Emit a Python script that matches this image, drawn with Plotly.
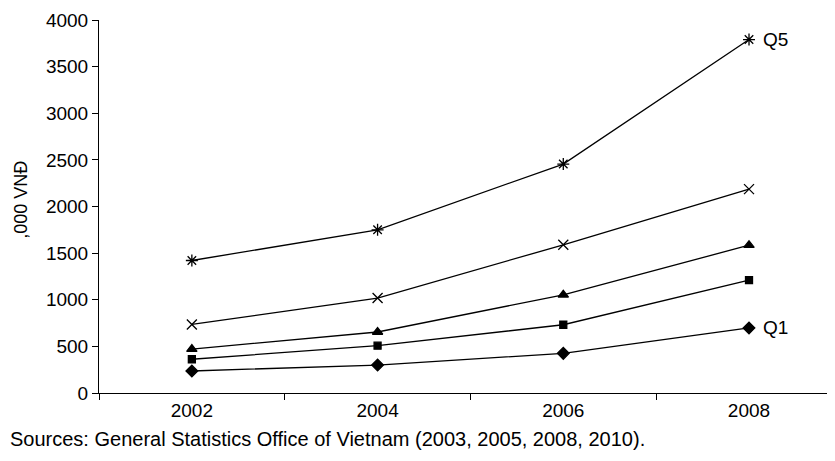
import plotly.graph_objects as go

years = ["2002", "2004", "2006", "2008"]
q1 = [236, 300, 425, 698]
q2 = [362, 507, 732, 1210]
q3 = [471, 654, 1053, 1585]
q4 = [735, 1018, 1589, 2186]
q5 = [1421, 1750, 2455, 3790]
y_ticks = [0, 500, 1000, 1500, 2000, 2500, 3000, 3500, 4000]
source_text = "Sources: General Statistics Office of Vietnam (2003, 2005, 2008, 2010)."
y_title = ",000 VNĐ"

FONT = "Liberation Sans, Arial, sans-serif"
# page body has an 8px margin, so the figure is sized/positioned to compensate
W, H = 827, 453
ML, MR, MT, MB = 91, 0, 12, 67.7

series = [
    ("Q1", q1, "diamond", 9),
    ("Q2", q2, "square", 7),
    ("Q3", q3, "triangle-up", 9),
    ("Q4", q4, "x-thin-open", 10),
    ("Q5", q5, "asterisk-open", 10),
]

fig = go.Figure()
for name, vals, sym, sz in series:
    fig.add_trace(go.Scatter(
        x=list(range(len(years))), y=vals, mode="lines+markers", name=name,
        line=dict(color="black", width=1.3),
        marker=dict(symbol=sym, size=sz, color="black",
                    line=dict(color="black", width=1.3)),
        showlegend=False, cliponaxis=False,
    ))

last = len(years) - 1
for name, vals in [("Q5", q5), ("Q1", q1)]:
    fig.add_annotation(xref="x", yref="y", x=last, y=vals[-1], text=name,
                       showarrow=False, xanchor="left", yanchor="middle", xshift=12,
                       font=dict(family=FONT, size=19, color="black"))

pw = W - ML - MR
ph = H - MT - MB
fig.add_annotation(xref="paper", yref="paper", x=-ML / pw, y=-(431 - (H - MB)) / ph,
                   text=source_text, showarrow=False, xanchor="left", yanchor="middle",
                   font=dict(family=FONT, size=20, color="black"))
fig.add_annotation(xref="paper", yref="paper", x=-(ML - 13) / pw, y=(H - MB - 192) / ph,
                   text=y_title, showarrow=False, textangle=-90,
                   xanchor="center", yanchor="middle",
                   font=dict(family=FONT, size=18, color="black"))

fig.update_xaxes(range=[-0.5, 3.463], tickvals=list(range(len(years))), ticktext=years,
                 ticks="", showline=True, linecolor="black", linewidth=1,
                 minor=dict(tickvals=[-0.5, 0.5, 1.5, 2.5], ticks="outside", ticklen=6,
                            tickcolor="black", tickwidth=1, showgrid=False),
                 showgrid=False, zeroline=False, automargin=False,
                 tickfont=dict(family=FONT, size=19, color="black"))
fig.update_yaxes(range=[0, 4000], tickvals=y_ticks, ticks="outside", ticklen=6,
                 tickcolor="black", tickwidth=1, showline=True, linecolor="black",
                 linewidth=1, showgrid=False, zeroline=False, automargin=False,
                 tickfont=dict(family=FONT, size=19, color="black"))

fig.update_layout(width=W, height=H, margin=dict(l=ML, r=MR, t=MT, b=MB, autoexpand=False),
                  plot_bgcolor="white", paper_bgcolor="white")

fig.write_html("out.html")
